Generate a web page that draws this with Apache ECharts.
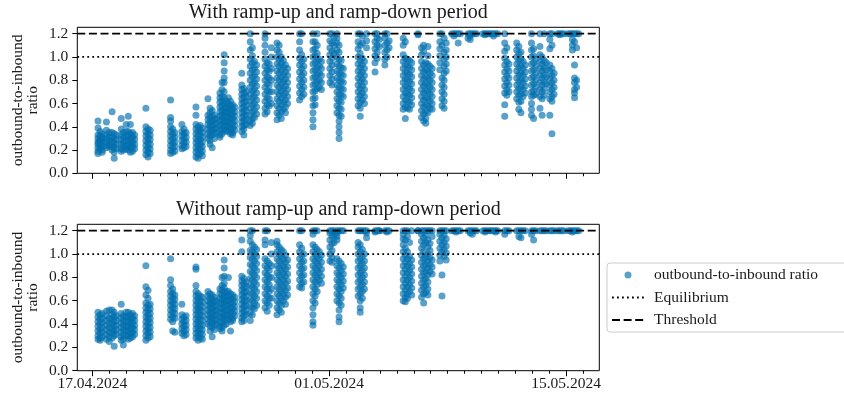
<!DOCTYPE html>
<html>
<head>
<meta charset="utf-8">
<script src="https://cdn.jsdelivr.net/npm/echarts@6/dist/echarts.min.js"></script>
<style>
  html, body { margin: 0; padding: 0; background: #fff; }
  #chart { width: 844px; height: 402px; }
</style>
</head>
<body>
<div id="chart"></div>
<script>
// Sampling instants (one column of lane ratios per instant), format "MM-DD HH" in 2024
const stamps = [
  '04-17 08', '04-17 11', '04-17 14',
  '04-17 20', '04-18 00',
  '04-18 04', '04-18 07', '04-18 10',
  '04-18 17', '04-18 20', '04-19 00',
  '04-19 03', '04-19 06', '04-19 09', '04-19 12',
  '04-20 04', '04-20 07', '04-20 10',
  '04-21 15', '04-21 18', '04-21 21',
  '04-22 07', '04-22 10', '04-22 13',
  '04-23 03', '04-23 06', '04-23 09', '04-23 12',
  '04-23 20', '04-23 23', '04-24 02', '04-24 05', '04-24 08',
  '04-24 13', '04-24 16', '04-24 19', '04-24 22',
  '04-25 01', '04-25 04', '04-25 07', '04-25 10',
  '04-25 20', '04-25 23', '04-26 02',
  '04-26 08', '04-26 11', '04-26 14', '04-26 17',
  '04-27 05', '04-27 08', '04-27 11', '04-27 14',
  '04-27 22', '04-28 01', '04-28 04', '04-28 07', '04-28 10', '04-28 13',
  '04-29 06', '04-29 09', '04-29 12',
  '04-30 01', '04-30 04', '04-30 07', '04-30 10', '04-30 13',
  '05-01 01', '05-01 04', '05-01 07',
  '05-01 11', '05-01 14', '05-01 17', '05-01 20',
  '05-02 17', '05-02 20', '05-02 23', '05-03 02', '05-03 05',
  '05-03 17', '05-03 20', '05-03 23',
  '05-04 07', '05-04 10', '05-04 13',
  '05-05 09', '05-05 12', '05-05 15', '05-05 18', '05-05 21',
  '05-06 06',
  '05-06 11', '05-06 14', '05-06 17', '05-06 20', '05-06 23', '05-07 02',
  '05-07 13', '05-07 16', '05-07 19', '05-07 22',
  '05-08 06', '05-08 09', '05-08 12', '05-08 15', '05-08 18',
  '05-09 05', '05-09 08', '05-09 11', '05-09 14', '05-09 17',
  '05-10 02', '05-10 05', '05-10 08', '05-10 11', '05-10 14', '05-10 17', '05-10 20', '05-10 23',
  '05-11 09', '05-11 12', '05-11 15',
  '05-12 02', '05-12 05', '05-12 08', '05-12 11', '05-12 14',
  '05-12 23', '05-13 02', '05-13 05',
  '05-13 11', '05-13 14', '05-13 17', '05-13 20',
  '05-14 01', '05-14 04', '05-14 07',
  '05-14 12', '05-14 15', '05-14 18', '05-14 21',
  '05-15 03', '05-15 06', '05-15 09', '05-15 12', '05-15 15', '05-15 18'
];

// Outbound-to-inbound ratios, including ramp-up and ramp-down hours
const ratioWith = [
  [0.45,0.39,0.33,0.30,0.27,0.25,0.22,0.19,0.17],
  [0.36,0.32,0.29,0.26,0.24,0.21,0.28],
  [0.34,0.31,0.27,0.23,0.20,0.18,0.30],
  [0.44,0.37,0.33,0.30,0.27,0.24,0.22],
  [0.35,0.31,0.28,0.25,0.23],
  [0.53,0.35,0.31,0.27,0.23,0.20],
  [0.34,0.30,0.26,0.22,0.18,0.13],
  [0.33,0.29,0.25,0.21],
  [0.47,0.38,0.33,0.29,0.25,0.21,0.19],
  [0.35,0.31,0.27,0.24,0.20],
  [0.42,0.36,0.32,0.28,0.23,0.21],
  [0.49,0.36,0.32,0.28,0.24,0.20],
  [0.42,0.34,0.30,0.26,0.22,0.18],
  [0.35,0.31,0.27,0.23,0.19],
  [0.33,0.29,0.25,0.21],
  [0.56,0.40,0.36,0.32,0.28,0.24,0.20,0.16],
  [0.38,0.34,0.30,0.26,0.22,0.18,0.14],
  [0.37,0.33,0.29,0.25,0.21,0.17],
  [0.63,0.48,0.45,0.40,0.36,0.32,0.28,0.24,0.20,0.17],
  [0.38,0.34,0.30,0.26,0.22,0.18],
  [0.35,0.31,0.27,0.23,0.19],
  [0.42,0.36,0.32,0.28,0.24,0.21],
  [0.38,0.34,0.30,0.26,0.22],
  [0.35,0.31,0.27,0.23],
  [0.57,0.50,0.42,0.38,0.34,0.30,0.26,0.22,0.18,0.14],
  [0.40,0.36,0.32,0.28,0.24,0.20,0.16,0.13],
  [0.41,0.37,0.33,0.29,0.25,0.21,0.17],
  [0.39,0.35,0.31,0.27,0.23,0.19,0.15],
  [0.64,0.50,0.46,0.42,0.38,0.34,0.30],
  [0.56,0.52,0.48,0.44,0.40,0.36,0.32,0.28,0.25],
  [0.54,0.49,0.45,0.41,0.37,0.33,0.22],
  [0.50,0.46,0.42,0.38,0.34,0.30],
  [0.47,0.43,0.39,0.35],
  [0.69,0.65,0.61,0.57,0.53,0.49,0.45,0.41,0.37,0.33,0.31],
  [0.78,0.72,0.66,0.62,0.58,0.54,0.50,0.46,0.42,0.38,0.34],
  [1.02,0.95,0.88,0.82,0.78,0.70,0.65,0.60,0.56,0.52,0.48,0.44,0.40,0.36],
  [0.62,0.57,0.53,0.49,0.45,0.41,0.37],
  [0.65,0.60,0.56,0.52,0.48,0.44,0.40,0.36],
  [0.62,0.58,0.54,0.50,0.46,0.42,0.38,0.34],
  [0.59,0.55,0.51,0.47,0.43,0.39,0.35,0.33],
  [0.57,0.53,0.49,0.45,0.41,0.37],
  [0.86,0.76,0.72,0.68,0.64,0.60,0.56,0.52,0.48,0.44,0.40,0.36],
  [0.73,0.69,0.65,0.61,0.57,0.53,0.49,0.45,0.41,0.38,0.33],
  [0.70,0.66,0.62,0.58,0.54,0.50,0.46,0.42],
  [1.20,1.13,1.06,0.98,0.92,0.86,0.80,0.74,0.68,0.62,0.56,0.50,0.45,0.41],
  [1.08,1.01,0.95,0.89,0.83,0.77,0.71,0.65,0.59,0.53,0.47,0.43],
  [0.96,0.90,0.84,0.78,0.72,0.66,0.60,0.54,0.48],
  [0.93,0.87,0.81,0.75,0.69,0.63,0.57,0.51],
  [1.20,1.16,1.10,1.04,0.98,0.92,0.86,0.80,0.74,0.68,0.62,0.56,0.51],
  [0.95,0.89,0.83,0.77,0.71,0.65,0.59,0.53],
  [0.94,0.88,0.82,0.76,0.70,0.64,0.58],
  [1.08,1.00,0.90,0.80,0.70,0.60],
  [1.12,1.06,1.00,0.94,0.88,0.82,0.76,0.70,0.64,0.58,0.52,0.46],
  [1.10,1.04,0.98,0.92,0.86,0.80,0.74,0.68,0.62,0.56,0.50],
  [1.00,0.95,0.89,0.83,0.77,0.71,0.65,0.59,0.53,0.47],
  [0.97,0.91,0.85,0.79,0.73,0.67,0.61,0.55],
  [0.93,0.87,0.81,0.75,0.69,0.63,0.57,0.52],
  [0.90,0.84,0.78,0.72,0.66,0.60],
  [1.20,1.13,1.06,0.99,0.93,0.87,0.81,0.75,0.69,0.63],
  [1.20,1.02,0.96,0.90,0.84,0.78,0.72,0.66],
  [0.98,0.92,0.86,0.80,0.74,0.68],
  [1.20,1.13,1.06,1.00,0.94,0.88,0.82,0.76,0.70,0.64,0.58,0.52,0.46,0.40],
  [1.13,1.07,1.01,0.95,0.89,0.83,0.77,0.71,0.65,0.59],
  [1.20,1.10,1.03,0.97,0.91,0.85,0.79,0.73],
  [0.98,0.92,0.86,0.80,0.74],
  [0.96,0.90,0.84,0.78,0.72],
  [1.20,1.14,1.08,1.02,0.96,0.90,0.84,0.78],
  [1.20,1.12,1.05,0.99,0.93,0.87,0.81,0.76],
  [1.17,1.10,1.03],
  [1.20,1.16,1.12,1.06,1.00,0.94,0.88,0.82,0.76,0.70,0.64,0.58,0.52],
  [1.10,1.04,0.98,0.92,0.86,0.80,0.74,0.68,0.62,0.56,0.50,0.45,0.40,0.35,0.30],
  [0.97,0.91,0.85,0.79,0.73,0.67,0.61,0.55,0.49],
  [0.90,0.84,0.78,0.72,0.66],
  [1.20,1.13,1.07,1.00,0.94,0.88,0.82,0.76,0.70,0.64,0.58],
  [1.20,1.10,1.03,0.97,0.91,0.85,0.79,0.73,0.67,0.61,0.56,0.49],
  [1.18,1.12,0.99,0.93,0.87,0.81,0.75,0.69,0.63],
  [0.96,0.90,0.84,0.78,0.72,0.66,0.60],
  [1.20,1.14,1.08],
  [1.20,1.13,1.07,1.01,0.95,0.87],
  [1.20,1.16,1.10,1.04,0.99],
  [1.15,1.09],
  [1.20,1.16,1.10,1.04,0.98,0.93],
  [1.20,1.12,1.06,1.00],
  [1.14,1.08],
  [1.16,1.10,1.02,0.96,0.90,0.84,0.78,0.72,0.66,0.60,0.55],
  [1.13,0.99,0.93,0.87,0.81,0.75,0.69,0.63,0.57,0.47],
  [0.98,0.92,0.86,0.80,0.74,0.68,0.62,0.56],
  [0.97,0.91,0.85,0.79,0.73,0.67,0.61,0.55],
  [0.95,0.89,0.83,0.77,0.71,0.65,0.59],
  [1.20,1.19],
  [1.08,1.02,0.96,0.90,0.84,0.78,0.72,0.66,0.60,0.54,0.48],
  [1.10,1.05,0.93,0.87,0.81,0.75,0.69,0.63,0.57,0.51,0.45],
  [0.95,0.89,0.83,0.77,0.71,0.65,0.59,0.53,0.47,0.43],
  [1.09,1.01,0.94,0.88,0.82,0.76,0.70,0.64,0.58,0.52],
  [0.92,0.86,0.80,0.74,0.68,0.62,0.56],
  [0.90,0.84,0.78,0.72,0.66,0.60,0.55],
  [1.20,1.13,1.07,1.01,0.95,0.89],
  [1.20,1.10,0.82,0.76,0.70,0.64,0.58],
  [1.16,1.04,0.98,0.92,0.86,0.80,0.74,0.68,0.62,0.56],
  [1.12,1.06,1.00,0.94,0.88],
  [1.20], [1.20,1.18], [1.20], [1.20,1.12], [1.20],
  [1.20,1.16], [1.20,1.18,1.15], [1.20], [1.20], [1.20],
  [1.20], [1.20,1.19], [1.20], [1.20], [1.20], [1.20,1.18], [1.20], [1.20],
  [1.20,1.12,1.05,0.99,0.93,0.87,0.81,0.75,0.69,0.59,0.49],
  [1.08,0.96,0.90,0.84,0.78,0.72,0.67],
  [0.94,0.88,0.82,0.76,0.70],
  [1.12,1.06,1.00,0.94,0.88,0.82,0.76,0.70,0.64],
  [1.09,1.03,0.97,0.91,0.85,0.79,0.73,0.67,0.61,0.55],
  [1.04,0.98,0.92,0.86,0.80,0.74,0.68,0.62,0.52],
  [0.96,0.90,0.84,0.78,0.72,0.66],
  [0.93,0.87,0.81,0.75,0.69],
  [1.20,1.12,1.06,1.00,0.94,0.88,0.82,0.76,0.70,0.66,0.60,0.55,0.50],
  [1.07,1.01,0.95,0.89,0.83,0.77,0.71,0.67,0.47],
  [0.98,0.92,0.86,0.80,0.74,0.68],
  [1.20,1.09,1.02,0.96,0.90,0.84,0.78,0.72,0.66,0.56],
  [1.00,0.94,0.88,0.82,0.76,0.70,0.64,0.50],
  [1.20,0.97,0.91,0.85,0.79,0.73,0.67],
  [0.95,0.89,0.83,0.77],
  [1.20,1.15,1.07,0.93,0.88,0.82,0.76,0.70,0.64,0.50],
  [1.20,1.10,0.90,0.84,0.78,0.72,0.66,0.62,0.34],
  [0.86,0.80,0.74,0.68],
  [1.20], [1.20,1.19], [1.20], [1.20],
  [1.20], [1.20], [1.20,1.15,1.10,1.06], [1.20,1.13,0.93,0.82,0.78,0.72,0.69,0.65], [1.20,1.08,0.80,0.74], [1.20]
];

// Outbound-to-inbound ratios, ramp-up and ramp-down hours left out
const ratioWithout = [
  [0.50,0.46,0.42,0.38,0.34,0.30,0.27],
  [0.48,0.44,0.40,0.36,0.32,0.28,0.26],
  [0.49,0.45,0.41,0.37,0.33,0.29],
  [0.51,0.47,0.43,0.39,0.35,0.31,0.27],
  [0.52,0.45,0.41,0.37,0.33,0.29,0.25],
  [0.52,0.48,0.44,0.40,0.36,0.32,0.28],
  [0.50,0.46,0.42,0.38,0.34,0.30,0.21],
  [0.47,0.43,0.39,0.35,0.31],
  [0.57,0.49,0.45,0.41,0.37,0.33,0.29,0.26],
  [0.47,0.43,0.39,0.35,0.31,0.27,0.22],
  [0.50,0.46,0.42,0.38,0.34,0.30],
  [0.50,0.46,0.42,0.38,0.34,0.30,0.27],
  [0.48,0.44,0.40,0.36,0.32,0.28],
  [0.49,0.45,0.41,0.37,0.33,0.29],
  [0.47,0.43,0.39,0.35,0.31],
  [0.90,0.72,0.65,0.58,0.54,0.50,0.46,0.42,0.38,0.34,0.30,0.26],
  [0.69,0.62,0.56,0.52,0.48,0.44,0.40,0.36,0.32,0.28],
  [0.57,0.53,0.49,0.45,0.41,0.37,0.33,0.29],
  [0.96,0.78,0.73,0.68,0.64,0.60,0.56,0.52,0.48,0.44],
  [0.70,0.66,0.62,0.58,0.54,0.50,0.46,0.42,0.34],
  [0.65,0.61,0.57,0.53,0.49,0.45,0.33],
  [0.57,0.48,0.44,0.40,0.36,0.32],
  [0.46,0.42,0.38,0.34,0.30],
  [0.47,0.43,0.39,0.35,0.31],
  [0.89,0.87,0.73,0.68,0.64,0.60,0.56,0.52,0.48,0.44,0.40,0.36,0.32,0.28],
  [0.66,0.62,0.58,0.54,0.50,0.46,0.42,0.38,0.34,0.30,0.26],
  [0.64,0.60,0.56,0.52,0.48,0.44,0.40,0.36,0.32,0.28],
  [0.63,0.59,0.55,0.51,0.47,0.43,0.39,0.35,0.31,0.27],
  [0.68,0.64,0.60,0.56,0.52,0.48,0.44,0.40],
  [0.66,0.62,0.58,0.54,0.50,0.46,0.42,0.38,0.34],
  [0.65,0.61,0.57,0.53,0.49,0.45,0.41,0.37,0.29],
  [0.63,0.59,0.55,0.51,0.47,0.43,0.39,0.35],
  [0.60,0.56,0.52,0.48,0.44,0.40],
  [0.70,0.66,0.62,0.58,0.54,0.50,0.46,0.42,0.38,0.36],
  [0.80,0.73,0.69,0.65,0.61,0.57,0.53,0.49,0.45,0.41,0.37,0.34],
  [0.95,0.88,0.81,0.75,0.71,0.67,0.63,0.59,0.55,0.51,0.47,0.43,0.39],
  [0.68,0.64,0.60,0.56,0.52,0.48,0.44,0.40],
  [0.80,0.68,0.64,0.60,0.56,0.52,0.48,0.44],
  [0.66,0.62,0.58,0.54,0.50,0.46,0.42,0.34],
  [0.65,0.61,0.57,0.53,0.49,0.45,0.43],
  [0.63,0.59,0.55,0.51,0.47],
  [1.12,1.02,0.81,0.77,0.73,0.69,0.65,0.61,0.57,0.53,0.49,0.45,0.42],
  [0.79,0.75,0.71,0.67,0.63,0.59,0.55,0.51,0.47,0.43],
  [0.76,0.72,0.68,0.64,0.60,0.56,0.52,0.48],
  [1.20,1.16,1.11,1.03,0.97,0.91,0.85,0.79,0.73,0.67,0.61,0.55,0.49,0.43],
  [1.20,1.08,1.02,0.96,0.90,0.84,0.78,0.72,0.66,0.60,0.54,0.48],
  [1.06,1.00,0.94,0.88,0.82,0.76,0.70,0.64,0.58,0.53],
  [1.04,0.98,0.92,0.86,0.80,0.74,0.68,0.62,0.56],
  [1.20,1.12,1.08,0.96,0.90,0.84,0.78,0.72,0.66,0.60,0.54],
  [1.20,0.94,0.88,0.82,0.76,0.70,0.64,0.58,0.51],
  [0.92,0.86,0.80,0.74,0.68,0.62,0.56],
  [1.10,1.00,0.90,0.80,0.70,0.62],
  [1.11,1.08,1.02,0.96,0.90,0.84,0.78,0.72,0.66,0.60,0.54,0.48],
  [1.06,1.00,0.94,0.88,0.82,0.76,0.70,0.64,0.58,0.52],
  [1.04,0.98,0.92,0.86,0.80,0.74,0.68,0.62,0.56,0.50],
  [1.02,0.96,0.90,0.84,0.78,0.72,0.66,0.60],
  [0.99,0.93,0.87,0.81,0.75,0.69,0.63,0.57],
  [0.95,0.89,0.83,0.77,0.71,0.65],
  [1.20,1.08,1.02,0.96,0.90,0.84,0.78,0.72],
  [1.20,1.05,0.99,0.93,0.87,0.81,0.75,0.71],
  [1.00,0.94,0.88,0.82,0.76],
  [1.20,1.17,1.08,1.02,0.96,0.90,0.84,0.78,0.72,0.66,0.60,0.54,0.48,0.42,0.39],
  [1.20,1.06,1.00,0.94,0.88,0.82,0.76,0.70,0.64,0.58],
  [1.20,1.04,0.98,0.92,0.86,0.80,0.74,0.68],
  [1.02,0.96,0.90,0.84,0.78],
  [0.99,0.93,0.87,0.81,0.75],
  [1.20,1.18,1.12,1.06,1.00,0.94],
  [1.20,1.15,1.09,1.03,0.97,0.93],
  [1.20,1.16,1.10],
  [1.20,1.18,1.15,1.12,0.96,0.90,0.84,0.78,0.72,0.66,0.60],
  [1.20,0.94,0.88,0.82,0.76,0.70,0.64,0.58,0.52,0.46,0.42],
  [1.20,0.92,0.86,0.80,0.74,0.68,0.62,0.56],
  [1.20,0.89,0.83,0.77,0.71],
  [1.20,1.10,1.06,1.00,0.94,0.88,0.82,0.76,0.70,0.64],
  [1.20,1.08,1.02,0.96,0.90,0.84,0.78,0.72,0.66,0.60,0.54,0.50],
  [1.20,1.04,0.98,0.92,0.86,0.80,0.74,0.68,0.62],
  [1.20,1.00,0.94,0.88,0.82,0.76,0.70],
  [1.20,1.18,1.14],
  [1.20,1.19], [1.20], [1.20,1.20],
  [1.20], [1.20,1.19], [1.20],
  [1.20,1.17,1.13,1.08,1.02,0.96,0.90,0.84,0.78,0.72,0.66,0.60],
  [1.20,1.12,1.05,0.99,0.93,0.87,0.81,0.75,0.69,0.63,0.59],
  [1.20,1.15,1.02,0.96,0.90,0.84,0.78,0.72,0.66,0.62],
  [1.10,0.98,0.92,0.86,0.80,0.74,0.68],
  [1.20,0.95,0.89,0.83,0.77,0.71,0.65],
  [1.20,1.20],
  [1.20,1.17,1.11,1.05,0.99,0.93,0.87,0.81,0.75,0.69,0.63],
  [1.20,1.14,1.08,1.02,0.96,0.90,0.84,0.78,0.72,0.66,0.58],
  [1.20,1.16,1.10,0.97,0.91,0.85,0.79,0.73,0.67],
  [1.20,1.12,1.06,1.00,0.94,0.88,0.82,0.76,0.70,0.65],
  [1.20,1.09,1.03,0.97,0.91,0.85],
  [1.20,1.15,0.95,0.89,0.83],
  [1.20,1.17,1.11,1.05,0.99,0.94],
  [1.20,1.14,1.08,1.02,0.82,0.64],
  [1.20,1.16,1.10,1.04,0.98],
  [1.20,1.13,1.07,1.01,0.95],
  [1.20], [1.20], [1.20,1.19], [1.20], [1.20],
  [1.20], [1.20,1.18], [1.20,1.17], [1.20], [1.20],
  [1.20], [1.20,1.19], [1.20], [1.20], [1.20], [1.20], [1.20,1.19], [1.20],
  [1.20,1.17], [1.20], [1.20],
  [1.20], [1.20,1.15], [1.20,1.14], [1.20], [1.20],
  [1.20,1.17], [1.20,1.12], [1.20],
  [1.20], [1.20], [1.20], [1.20],
  [1.20], [1.20], [1.20],
  [1.20], [1.20], [1.20], [1.20],
  [1.20], [1.20], [1.20,1.19], [1.20], [1.20], [1.20]
];

const equilibrium = 1.0;
const threshold = 1.2;
const yTicks = [0.0, 0.2, 0.4, 0.6, 0.8, 1.0, 1.2];
const dateTicks = ['04-17 00', '05-01 00', '05-15 00'];
const panelTitles = ['With ramp-up and ramp-down period', 'Without ramp-up and ramp-down period'];
const seriesNames = ['outbound-to-inbound ratio', 'Equilibrium', 'Threshold'];
const yName = 'outbound-to-inbound\nratio';

// "MM-DD HH[:mm]" -> epoch ms (local time, year 2024)
function toTime(s) {
  const m = +s.slice(0, 2), d = +s.slice(3, 5), h = +s.slice(6, 8);
  const mi = s.length > 8 ? +s.slice(9, 11) : 0;
  return new Date(2024, m - 1, d, h, mi).getTime();
}
function toPoints(values) {
  const pts = [];
  stamps.forEach((s, i) => {
    const t = toTime(s);
    values[i].forEach(v => pts.push([t, v]));
  });
  return pts;
}

const xMin = toTime('04-16 02:40');
const xMax = toTime('05-16 23:10');
const majorTicks = dateTicks.map(toTime);
const dayTicks = [];
for (let d = new Date(2024, 3, 17); d.getTime() <= xMax; d = new Date(d.getFullYear(), d.getMonth(), d.getDate() + 1)) {
  dayTicks.push(d.getTime());
}

const FONT = 'Liberation Serif';
const TEXT = '#1a1a1a';
const DOT = 'rgba(1,112,174,0.82)';
const pad2 = n => (n < 10 ? '0' : '') + n;
function fmtDate(v) {
  const d = new Date(v);
  return pad2(d.getDate()) + '.' + pad2(d.getMonth() + 1) + '.' + d.getFullYear();
}

const grids = [
  { left: 77.3, top: 27.3, width: 522, height: 146 },
  { left: 77.3, top: 224.3, width: 522, height: 146.4 }
];

// time runs on a plain numeric axis (epoch ms) so that tick positions can be listed explicitly
function xAxesFor(gridIndex, showLabels) {
  return [
    {
      type: 'value', gridIndex, position: 'bottom', min: xMin, max: xMax, scale: true,
      axisLine: { show: false }, splitLine: { show: false },
      axisTick: { show: true, customValues: dayTicks, length: 3, lineStyle: { color: '#000', width: 1 } },
      axisLabel: { show: false }
    },
    {
      type: 'value', gridIndex, position: 'bottom', min: xMin, max: xMax, scale: true,
      axisLine: { show: false }, splitLine: { show: false },
      axisTick: { show: true, customValues: majorTicks, length: 5.5, lineStyle: { color: '#000', width: 1 } },
      axisLabel: {
        show: showLabels, customValues: majorTicks, formatter: fmtDate,
        fontFamily: FONT, fontSize: 15.5, color: TEXT, margin: 5
      }
    }
  ];
}
function yAxisFor(gridIndex) {
  return {
    type: 'value', gridIndex, position: 'left', min: 0, max: 1.255,
    axisLine: { show: false }, splitLine: { show: false },
    axisTick: { show: true, customValues: yTicks, length: 5, lineStyle: { color: '#000', width: 1 } },
    axisLabel: {
      customValues: yTicks, formatter: v => v.toFixed(1),
      fontFamily: FONT, fontSize: 15.5, color: TEXT, margin: 9
    }
  };
}

function panelSeries(values, xAxisIndex, yAxisIndex) {
  return [
    {
      name: seriesNames[0], type: 'scatter', xAxisIndex, yAxisIndex,
      data: toPoints(values), symbol: 'circle', symbolSize: 7,
      itemStyle: { color: DOT }, z: 2
    },
    {
      name: seriesNames[1], type: 'line', xAxisIndex, yAxisIndex,
      data: [[xMin, equilibrium], [xMax, equilibrium]], symbol: 'none',
      itemStyle: { color: '#000' },
      lineStyle: { color: '#000', width: 1.8, type: [1.8, 3.2] }, z: 3
    },
    {
      name: seriesNames[2], type: 'line', xAxisIndex, yAxisIndex,
      data: [[xMin, threshold], [xMax, threshold]], symbol: 'none',
      itemStyle: { color: '#000' },
      lineStyle: { color: '#000', width: 1.8, type: [8, 3.6] }, z: 3
    }
  ];
}

function titleText(text, y) {
  return {
    type: 'text', x: 338.3, y,
    style: { text, fontFamily: FONT, fontSize: 20, fill: TEXT, align: 'center', verticalAlign: 'middle' }
  };
}
function yNameText(y) {
  return {
    type: 'text', x: 25.5, y, rotation: Math.PI / 2,
    style: { text: yName, fontFamily: FONT, fontSize: 15.5, lineHeight: 15, fill: TEXT, align: 'center', verticalAlign: 'middle' }
  };
}

const chart = echarts.init(document.getElementById('chart'), null, { renderer: 'canvas' });
chart.setOption({
  animation: false,
  backgroundColor: '#fff',
  grid: grids.map(g => Object.assign({ show: true, borderColor: '#000', borderWidth: 1, backgroundColor: 'transparent' }, g)),
  xAxis: [...xAxesFor(0, false), ...xAxesFor(1, true)],
  yAxis: [yAxisFor(0), yAxisFor(1)],
  legend: {
    data: [
      { name: seriesNames[0] },
      { name: seriesNames[1], itemStyle: { opacity: 0 } },
      { name: seriesNames[2], itemStyle: { opacity: 0 } }
    ],
    orient: 'vertical', left: 607, top: 263,
    padding: [4, 30, 4, 4], itemWidth: 32, itemHeight: 7, itemGap: 6.5,
    borderColor: '#cccccc', borderWidth: 1, borderRadius: 3, backgroundColor: 'rgba(255,255,255,0.8)',
    textStyle: { fontFamily: FONT, fontSize: 15.5, color: TEXT, lineHeight: 16, padding: [0, 0, 0, 5] }
  },
  graphic: [
    titleText(panelTitles[0], 12.5),
    titleText(panelTitles[1], 209.5),
    yNameText(100.3),
    yNameText(297.5)
  ],
  series: [...panelSeries(ratioWith, 0, 0), ...panelSeries(ratioWithout, 2, 1)]
});
</script>
</body>
</html>
